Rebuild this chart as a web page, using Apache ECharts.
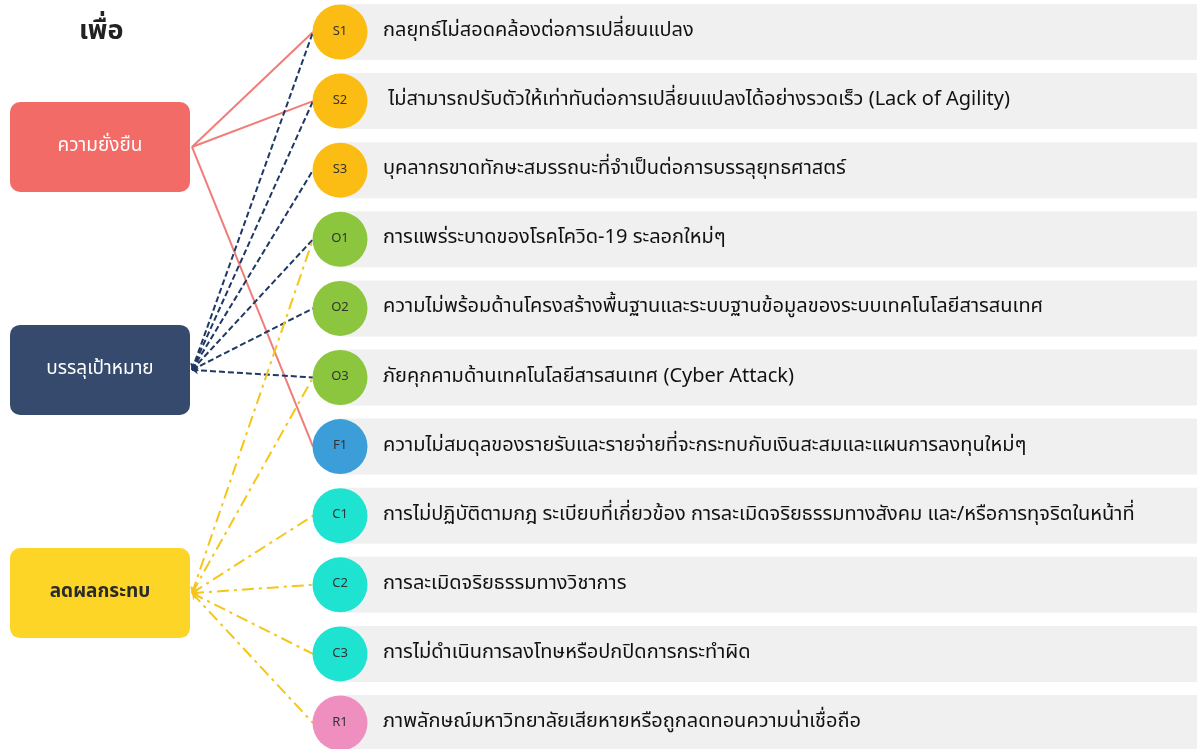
<!DOCTYPE html>
<html><head><meta charset="utf-8">
<script src="https://cdn.jsdelivr.net/npm/echarts@6/dist/echarts.min.js"></script>
<style>html,body{margin:0;padding:0;background:#fff}#c{width:1200px;height:749px}</style>
</head><body><div id="c"></div>
<script>
// ---- data ----
var title = 'เพื่อ';
var codes = ['S1','S2','S3','O1','O2','O3','F1','C1','C2','C3','R1'];
var riskLabels = [
  'กลยุทธ์ไม่สอดคล้องต่อการเปลี่ยนแปลง',
  ' ไม่สามารถปรับตัวให้เท่าทันต่อการเปลี่ยนแปลงได้อย่างรวดเร็ว (Lack of Agility)',
  'บุคลากรขาดทักษะสมรรถนะที่จำเป็นต่อการบรรลุยุทธศาสตร์',
  'การแพร่ระบาดของโรคโควิด-19 ระลอกใหม่ๆ',
  'ความไม่พร้อมด้านโครงสร้างพื้นฐานและระบบฐานข้อมูลของระบบเทคโนโลยีสารสนเทศ',
  'ภัยคุกคามด้านเทคโนโลยีสารสนเทศ (Cyber Attack)',
  'ความไม่สมดุลของรายรับและรายจ่ายที่จะกระทบกับเงินสะสมและแผนการลงทุนใหม่ๆ',
  'การไม่ปฏิบัติตามกฎ ระเบียบที่เกี่ยวข้อง การละเมิดจริยธรรมทางสังคม และ/หรือการทุจริตในหน้าที่',
  'การละเมิดจริยธรรมทางวิชาการ',
  'การไม่ดำเนินการลงโทษหรือปกปิดการกระทำผิด',
  'ภาพลักษณ์มหาวิทยาลัยเสียหายหรือถูกลดทอนความน่าเชื่อถือ'
];
var goals = ['ความยั่งยืน','บรรลุเป้าหมาย','ลดผลกระทบ'];
var goalRows = [1.664, 4.89, 8.12];           // vertical position in row units
var linksSustain = ['S1','S2','F1'];
var linksAchieve = ['S1','S2','S3','O1','O2','O3'];
var linksMitigate = ['O1','O3','C1','C2','C3','R1'];

// ---- styles ----
var FONT = "Tahoma, 'Noto Sans Thai', 'Leelawadee UI', sans-serif";
var groupColor = {S:'#fbbd13', O:'#8cc63e', F:'#3b9ed8', C:'#1ee3d1', R:'#ee8fc0'};
var goalColor = ['#f26b67', '#354a6c', '#fcd526'];
var goalText = ['#ffffff', '#ffffff', '#2a2a2a'];
var goalWeight = ['normal', 'normal', 'bold'];
var BOX_CX = 100, BOX_W = 180, BOX_H = 90;
var LINE_X0 = 192, LINE_X1 = 313, CIRCLE_X = 340, BAR_X0 = 340, BAR_X1 = 1197, TEXT_X = 383;

function rowOf(code){ return codes.indexOf(code); }
function mkLinks(g, list){
  return list.map(function(c){ return {coords:[[LINE_X0, goalRows[g]],[LINE_X1, rowOf(c)]]}; });
}

var chart = echarts.init(document.getElementById('c'));
chart.setOption({
  animation:false,
  backgroundColor:'#ffffff',
  grid:{left:0,right:0,top:0,bottom:0},
  xAxis:{type:'value',min:0,max:1200,show:false},
  yAxis:{type:'value',min:-0.463,max:10.376,inverse:true,show:false},
  graphic:[{type:'text',left:79,top:20,style:{text:title,fontSize:27,fontWeight:'bold',fill:'#222',fontFamily:FONT}}],
  series:[
    { // gray bars + labels
      type:'custom', z:1,
      data: codes.map(function(c,i){ return [BAR_X0, BAR_X1, i]; }),
      renderItem:function(params, api){
        var p0 = api.coord([api.value(0), api.value(2)]);
        var p1 = api.coord([api.value(1), api.value(2)]);
        var h = api.size([0,0.81])[1];
        var tx = api.coord([TEXT_X, api.value(2)]);
        return {type:'group', children:[
          {type:'rect', shape:{x:p0[0], y:p0[1]-h/2, width:p1[0]-p0[0], height:h}, style:{fill:'#f0f0f0'}},
          {type:'text', x:tx[0], y:tx[1], style:{text:riskLabels[params.dataIndex], fontSize:20, fill:'#111', fontFamily:FONT, verticalAlign:'middle', align:'left'}}
        ]};
      }
    },
    {type:'lines', coordinateSystem:'cartesian2d', z:3, symbol:['none','none'],
      lineStyle:{color:'#f07d78', width:2, type:'solid', opacity:1}, data: mkLinks(0, linksSustain)},
    {type:'lines', coordinateSystem:'cartesian2d', z:3, symbol:['arrow','none'], symbolSize:6,
      lineStyle:{color:'#1f3864', width:2, type:[6,3], opacity:1}, data: mkLinks(1, linksAchieve)},
    {type:'lines', coordinateSystem:'cartesian2d', z:3, symbol:['arrow','none'], symbolSize:6,
      lineStyle:{color:'#f5c518', width:2, type:[12,5,3,5], opacity:1}, data: mkLinks(2, linksMitigate)},
    { // circles
      type:'scatter', z:5, symbol:'circle', symbolSize:55,
      data: codes.map(function(c,i){ return {value:[CIRCLE_X, i], name:c, itemStyle:{color:groupColor[c[0]], opacity:1}}; }),
      label:{show:true, position:'inside', formatter:function(p){return p.name;}, fontSize:13, color:'#333', fontFamily:FONT}
    },
    { // goal boxes
      type:'custom', z:6,
      data: goals.map(function(g,i){ return [BOX_CX, goalRows[i]]; }),
      renderItem:function(params, api){
        var c = api.coord([api.value(0), api.value(1)]);
        var i = params.dataIndex;
        return {type:'group', children:[
          {type:'rect', shape:{x:c[0]-BOX_W/2, y:c[1]-BOX_H/2, width:BOX_W, height:BOX_H, r:10}, style:{fill:goalColor[i]}},
          {type:'text', x:c[0], y:c[1], style:{text:goals[i], fontSize:19, fontWeight:goalWeight[i], fill:goalText[i], fontFamily:FONT, align:'center', verticalAlign:'middle'}}
        ]};
      }
    }
  ]
});
</script></body></html>
